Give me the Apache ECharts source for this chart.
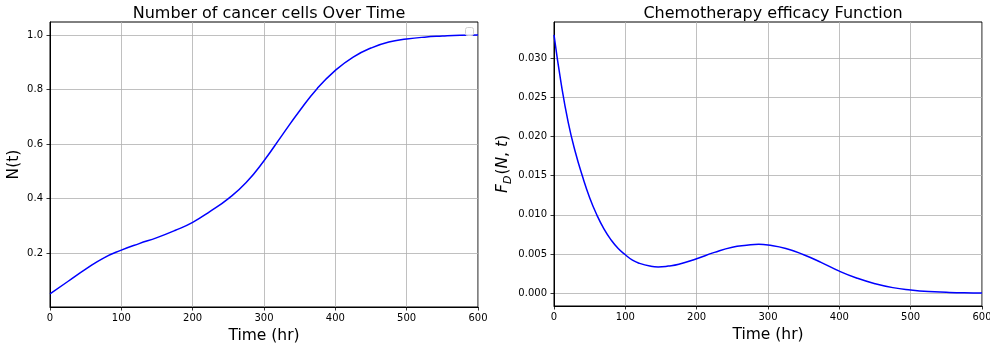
<!DOCTYPE html>
<html>
<head>
<meta charset="utf-8">
<script src="https://cdn.jsdelivr.net/npm/echarts@6/dist/echarts.min.js"></script>
<style>
  html, body { margin: 0; padding: 0; background: #fff; }
  #chart { width: 990px; height: 343px; }
</style>
</head>
<body>
<div id="chart"></div>
<script>
// N(t): cancer cell count
const cellTimes = [0, 25, 50, 75, 100, 125, 150, 175, 200, 225, 250, 275, 300, 325, 350, 375, 400, 425, 450, 475, 500, 525, 550, 575, 600];
const cellValues = [0.051, 0.096, 0.141, 0.182, 0.211, 0.235, 0.257, 0.283, 0.313, 0.354, 0.400, 0.459, 0.539, 0.631, 0.722, 0.805, 0.870, 0.919, 0.952, 0.974, 0.985, 0.992, 0.996, 0.999, 1.0];

// F_D(N,t): chemotherapy efficacy
const effTimes = [0, 10, 20, 30, 40, 50, 60, 70, 80, 90, 100, 110, 120, 135, 146, 160, 175, 200, 225, 250, 270, 287, 300, 325, 350, 375, 400, 425, 450, 475, 500, 525, 550, 575, 600];
const effValues = [0.0330, 0.0268, 0.0218, 0.0180, 0.0149, 0.0122, 0.0100, 0.0082, 0.0068, 0.0057, 0.0049, 0.0042, 0.0038, 0.00345, 0.00335, 0.00345, 0.00368, 0.0044, 0.0052, 0.00585, 0.0061, 0.00623, 0.00614, 0.0057, 0.0049, 0.0039, 0.0028, 0.0019, 0.0012, 0.0007, 0.0004, 0.0002, 0.0001, 0.00003, 0.0];

const cellTicks = [0.2, 0.4, 0.6, 0.8, 1.0];
const effTicks = [0.000, 0.005, 0.010, 0.015, 0.020, 0.025, 0.030];

const FONT = "DejaVu Sans";
const gridLine = { show: true, lineStyle: { color: "#b0b0b0", width: 0.8 } };
const tickStyle = { show: true, inside: false, length: 3.5, lineStyle: { color: "#000", width: 0.8 } };

function xAxisFor(gridIndex) {
  return {
    type: "value", gridIndex, min: 0, max: 600, interval: 100,
    name: "Time (hr)", nameLocation: "middle", nameGap: 18,
    nameTextStyle: { fontFamily: FONT, fontSize: 15.5, color: "#000" },
    axisLine: { show: true, onZero: false, lineStyle: { color: "#000", width: 1 } },
    axisTick: tickStyle,
    axisLabel: { fontFamily: FONT, fontSize: 10, color: "#000", margin: 6, showMaxLabel: true, hideOverlap: false },
    splitLine: gridLine
  };
}

const chart = echarts.init(document.getElementById("chart"));
chart.setOption({
  animation: false,
  backgroundColor: "#fff",
  title: [
    { text: "Number of cancer cells Over Time", left: 264, top: 1, textAlign: "center",
      textStyle: { fontFamily: FONT, fontSize: 16, fontWeight: "normal", color: "#000" } },
    { text: "Chemotherapy efficacy Function", left: 768, top: 1, textAlign: "center",
      textStyle: { fontFamily: FONT, fontSize: 16, fontWeight: "normal", color: "#000" } }
  ],
  grid: [
    { left: 50, top: 22, width: 428, height: 285, containLabel: false, outerBoundsMode: "none",
      show: true, borderColor: "#000", borderWidth: 1, backgroundColor: "transparent" },
    { left: 554, top: 22, width: 428, height: 284, containLabel: false, outerBoundsMode: "none",
      show: true, borderColor: "#000", borderWidth: 1, backgroundColor: "transparent" }
  ],
  xAxis: [xAxisFor(0), xAxisFor(1)],
  yAxis: [
    {
      type: "value", gridIndex: 0, min: 0.0025, max: 1.0475,
      name: "N(t)", nameLocation: "middle", nameGap: 28,
      nameTextStyle: { fontFamily: FONT, fontSize: 15.5, color: "#000" },
      axisLine: { show: true, onZero: false, lineStyle: { color: "#000", width: 1 } },
      axisTick: Object.assign({}, tickStyle, { customValues: cellTicks }),
      axisLabel: { fontFamily: FONT, fontSize: 10, color: "#000", margin: 7, customValues: cellTicks,
        formatter: (v) => v.toFixed(1) },
      splitLine: gridLine
    },
    {
      type: "value", gridIndex: 1, min: -0.00165, max: 0.03465,
      name: "{i|F}{sub|D}{n|(}{i|N}{n|, }{i|t}{n|)}", nameLocation: "middle", nameGap: 40,
      nameTextStyle: {
        fontFamily: FONT, fontSize: 15.5, color: "#000",
        rich: {
          i: { fontFamily: FONT, fontSize: 15.5, fontStyle: "italic", color: "#000", lineHeight: 22, verticalAlign: "middle" },
          n: { fontFamily: FONT, fontSize: 15.5, color: "#000", lineHeight: 22, verticalAlign: "middle" },
          sub: { fontFamily: FONT, fontSize: 11, fontStyle: "italic", color: "#000", lineHeight: 22, verticalAlign: "bottom", padding: [0, 1, 0, 0] }
        }
      },
      axisLine: { show: true, onZero: false, lineStyle: { color: "#000", width: 1 } },
      axisTick: Object.assign({}, tickStyle, { customValues: effTicks }),
      axisLabel: { fontFamily: FONT, fontSize: 10, color: "#000", margin: 7, customValues: effTicks,
        formatter: (v) => v.toFixed(3) },
      splitLine: gridLine
    }
  ],
  graphic: [
    // empty matplotlib legend box in the upper right of the left panel
    { type: "rect", left: 465, top: 27, shape: { width: 8, height: 8, r: 2 },
      style: { fill: "rgba(255,255,255,0.8)", stroke: "#d0d0d0", lineWidth: 1 }, z: 10 }
  ],
  series: [
    {
      type: "line", xAxisIndex: 0, yAxisIndex: 0, showSymbol: false, smooth: 0.5,
      lineStyle: { color: "#0000ff", width: 1.5 },
      data: cellTimes.map((t, i) => [t, cellValues[i]])
    },
    {
      type: "line", xAxisIndex: 1, yAxisIndex: 1, showSymbol: false, smooth: 0.5,
      lineStyle: { color: "#0000ff", width: 1.5 },
      data: effTimes.map((t, i) => [t, effValues[i]])
    }
  ]
});
</script>
</body>
</html>
